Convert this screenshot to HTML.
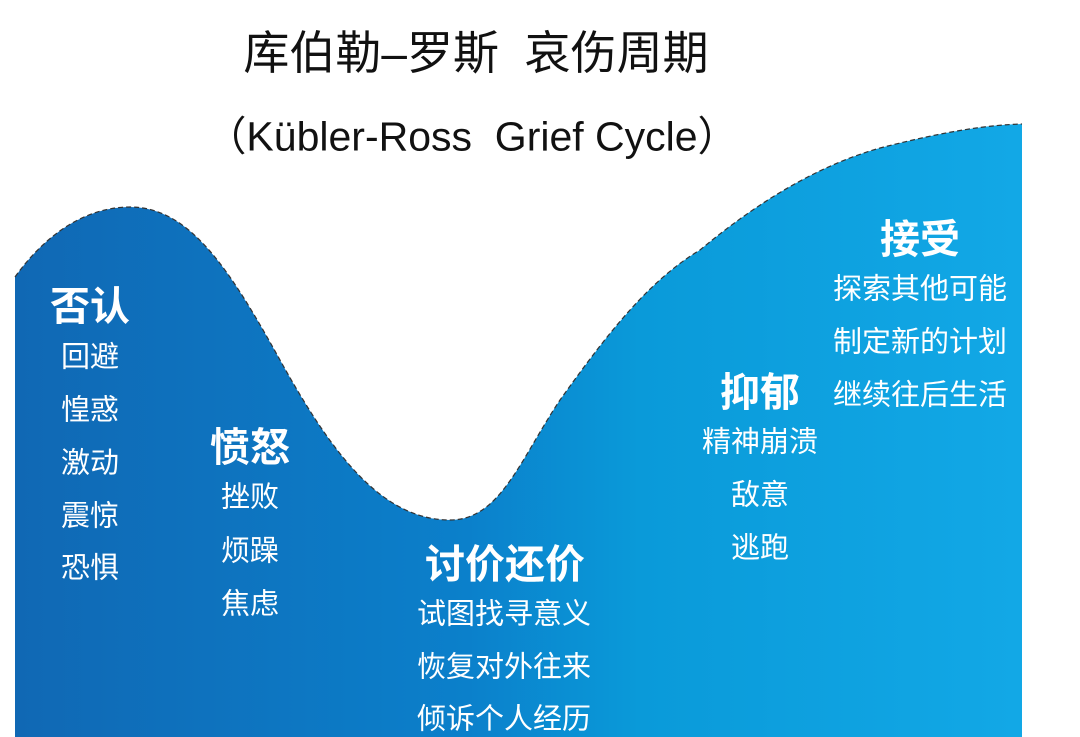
<!DOCTYPE html>
<html><head><meta charset="utf-8"><style>
html,body{margin:0;padding:0;background:#fff;}
body{width:1080px;height:737px;position:relative;overflow:hidden;font-family:"Liberation Sans","Noto Sans CJK SC",sans-serif;}
.t{position:absolute;white-space:nowrap;transform:translate(-50%,-50%);line-height:1;}
.w{color:#fff;font-size:29px;}
.h{color:#fff;font-size:40px;font-weight:bold;}
.k{color:#111;}
</style></head><body>
<svg width="1080" height="737" style="position:absolute;left:0;top:0">
<defs><linearGradient id="g" x1="0" x2="1" y1="0" y2="0">
<stop offset="0" stop-color="#1068b4"/><stop offset="0.45" stop-color="#0b80cb"/><stop offset="0.62" stop-color="#0a9ad9"/><stop offset="1" stop-color="#12a8e6"/></linearGradient></defs>
<path d="M15,277 C45,235 85,207 130,207 C190,207 230,270 280,360 C330,450 380,520 450,520 C500,520 520,460 560,400 C610,330 650,280 700,250 C760,200 820,165 880,148 C950,130 990,125 1022,124 L1022,737 L15,737 Z" fill="url(#g)"/>
<path d="M15,277 C45,235 85,207 130,207 C190,207 230,270 280,360 C330,450 380,520 450,520 C500,520 520,460 560,400 C610,330 650,280 700,250 C760,200 820,165 880,148 C950,130 990,125 1022,124" fill="none" stroke="#333" stroke-width="1.2" stroke-dasharray="5,3"/>
</svg>
<div class="t k" style="left:476px;top:53px;font-size:46px;">库伯勒–罗斯&nbsp;&nbsp;哀伤周期</div>
<div class="t k" style="left:472px;top:137px;font-size:41px;">（Kübler-Ross&nbsp;&nbsp;Grief Cycle）</div>

<div class="t h" style="left:90px;top:307px">否认</div>
<div class="t w" style="left:90px;top:358px">回避</div>
<div class="t w" style="left:90px;top:411px">惶惑</div>
<div class="t w" style="left:90px;top:464px">激动</div>
<div class="t w" style="left:90px;top:517px">震惊</div>
<div class="t w" style="left:90px;top:569px">恐惧</div>

<div class="t h" style="left:250px;top:448px">愤怒</div>
<div class="t w" style="left:250px;top:498px">挫败</div>
<div class="t w" style="left:250px;top:552px">烦躁</div>
<div class="t w" style="left:250px;top:605px">焦虑</div>

<div class="t h" style="left:505px;top:565px">讨价还价</div>
<div class="t w" style="left:504px;top:615px">试图找寻意义</div>
<div class="t w" style="left:504px;top:668px">恢复对外往来</div>
<div class="t w" style="left:504px;top:720px">倾诉个人经历</div>

<div class="t h" style="left:760px;top:393px">抑郁</div>
<div class="t w" style="left:760px;top:443px">精神崩溃</div>
<div class="t w" style="left:760px;top:496px">敌意</div>
<div class="t w" style="left:760px;top:549px">逃跑</div>

<div class="t h" style="left:920px;top:240px">接受</div>
<div class="t w" style="left:920px;top:290px">探索其他可能</div>
<div class="t w" style="left:920px;top:343px">制定新的计划</div>
<div class="t w" style="left:920px;top:396px">继续往后生活</div>
</body></html>
